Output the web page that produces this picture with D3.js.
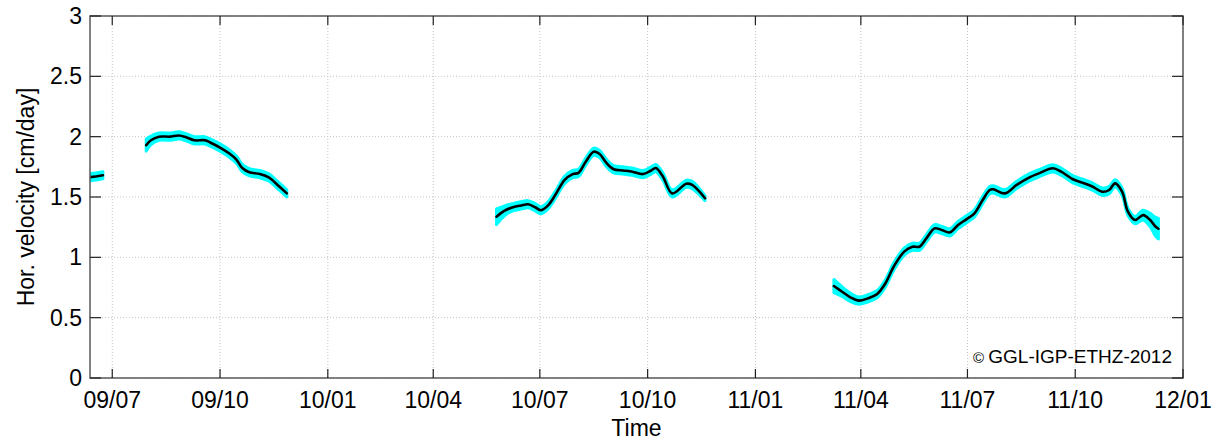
<!DOCTYPE html>
<html><head><meta charset="utf-8">
<script src="https://cdn.jsdelivr.net/npm/d3@7"></script>
<style>
html,body{margin:0;padding:0;background:#fff;}
svg{display:block;font-family:"Liberation Sans",Arial,Helvetica,sans-serif;}
</style></head>
<body><svg id="c" width="1216" height="442"></svg>
<script>
// ---- data ----
const xTickDates = ["2009-07-01","2009-10-01","2010-01-01","2010-04-01","2010-07-01","2010-10-01","2011-01-01","2011-04-01","2011-07-01","2011-10-01","2012-01-01"];
const xTickLabels = ["09/07","09/10","10/01","10/04","10/07","10/10","11/01","11/04","11/07","11/10","12/01"];
const yTicks = [0,0.5,1,1.5,2,2.5,3];
const yTickLabels = ["0","0.5","1","1.5","2","2.5","3"];

const seg1Dates = ["2009-06-12","2009-06-17","2009-06-23"];
const seg1Vals  = [1.665,1.67,1.68];
const seg1Err   = [0.03,0.03,0.03];

const seg2Dates = ["2009-07-30","2009-08-03","2009-08-10","2009-08-19","2009-08-27","2009-09-02","2009-09-09","2009-09-18","2009-09-23","2009-10-01","2009-10-09","2009-10-15","2009-10-20","2009-10-26","2009-11-04","2009-11-12","2009-11-18","2009-11-27"];
const seg2Vals  = [1.93,1.97,2.00,2.00,2.01,1.995,1.97,1.97,1.95,1.91,1.86,1.81,1.74,1.705,1.69,1.66,1.61,1.53];
const seg2Err   = [0.05,0.035,0.03,0.03,0.03,0.03,0.03,0.03,0.03,0.03,0.03,0.03,0.03,0.03,0.03,0.03,0.03,0.03];

const seg3Dates = ["2010-05-25","2010-06-01","2010-06-08","2010-06-15","2010-06-21","2010-06-27","2010-07-02","2010-07-08","2010-07-15","2010-07-22","2010-07-29","2010-08-03","2010-08-09","2010-08-16","2010-08-21","2010-08-27","2010-09-02","2010-09-10","2010-09-18","2010-09-27","2010-10-04","2010-10-08","2010-10-14","2010-10-22","2010-11-03","2010-11-08","2010-11-19"];
const seg3Vals  = [1.337,1.387,1.415,1.43,1.44,1.415,1.39,1.43,1.53,1.64,1.69,1.70,1.79,1.875,1.856,1.78,1.73,1.72,1.71,1.69,1.72,1.74,1.67,1.53,1.61,1.60,1.49];
const seg3Err   = [0.065,0.04,0.03,0.03,0.03,0.03,0.03,0.03,0.03,0.03,0.03,0.03,0.03,0.03,0.03,0.03,0.03,0.03,0.03,0.03,0.03,0.03,0.03,0.03,0.03,0.03,0.02];

const seg4Dates = ["2011-03-09","2011-03-16","2011-03-23","2011-03-30","2011-04-07","2011-04-15","2011-04-22","2011-04-29","2011-05-08","2011-05-15","2011-05-21","2011-05-27","2011-06-03","2011-06-09","2011-06-16","2011-06-23","2011-06-30","2011-07-07","2011-07-14","2011-07-20","2011-07-23","2011-08-02","2011-08-12","2011-08-23","2011-08-31","2011-09-12","2011-09-19","2011-09-29","2011-10-07","2011-10-16","2011-10-24","2011-10-30","2011-11-04","2011-11-10","2011-11-15","2011-11-21","2011-11-28","2011-12-04","2011-12-08","2011-12-11"];
const seg4Vals  = [0.762,0.715,0.669,0.641,0.66,0.696,0.785,0.922,1.047,1.088,1.088,1.158,1.24,1.227,1.207,1.268,1.315,1.365,1.475,1.558,1.564,1.53,1.60,1.663,1.696,1.738,1.71,1.647,1.619,1.585,1.544,1.558,1.613,1.544,1.378,1.309,1.35,1.309,1.26,1.237];
const seg4Err   = [0.055,0.04,0.035,0.03,0.03,0.03,0.03,0.03,0.03,0.03,0.03,0.03,0.03,0.03,0.03,0.03,0.03,0.03,0.03,0.03,0.03,0.03,0.03,0.03,0.03,0.03,0.03,0.03,0.03,0.03,0.03,0.03,0.03,0.03,0.03,0.03,0.04,0.055,0.075,0.085];

const xDomain = ["2009-06-12","2012-01-01"];
const yDomain = [0,3];
const xLabel = "Time";
const yLabel = "Hor. velocity [cm/day]";
const credit = "GGL-IGP-ETHZ-2012";

// ---- layout ----
const parse = d3.timeParse("%Y-%m-%d");
const L = 90, R = 1183, T = 16, B = 378;
const svg = d3.select("#c");
const x = d3.scaleTime().domain(xDomain.map(parse)).range([L, R]);
const y = d3.scaleLinear().domain(yDomain).range([B, T]);

// grid
const g = svg.append("g");
g.selectAll(".gx").data(xTickDates.map(parse)).enter().append("line")
  .attr("x1", d => x(d)).attr("x2", d => x(d)).attr("y1", T).attr("y2", B)
  .attr("stroke", "#c4c4c4").attr("stroke-width", 1).attr("stroke-dasharray", "1,2");
g.selectAll(".gy").data(yTicks).enter().append("line")
  .attr("x1", L).attr("x2", R).attr("y1", d => y(d)).attr("y2", d => y(d))
  .attr("stroke", "#c4c4c4").attr("stroke-width", 1).attr("stroke-dasharray", "1,2");

// data
const segs = [[seg1Dates,seg1Vals,seg1Err],[seg2Dates,seg2Vals,seg2Err],[seg3Dates,seg3Vals,seg3Err],[seg4Dates,seg4Vals,seg4Err]]
  .map(([ds,vs,es]) => ds.map((d,i) => ({t: parse(d), v: vs[i], e: es[i]})));

svg.append("clipPath").attr("id","pc").append("rect")
  .attr("x", L).attr("y", T).attr("width", R-L).attr("height", B-T);
const dg = svg.append("g").attr("clip-path","url(#pc)");
const area = d3.area().x(d => x(d.t)).y0(d => y(d.v - d.e)).y1(d => y(d.v + d.e)).curve(d3.curveCatmullRom);
const line = d3.line().x(d => x(d.t)).y(d => y(d.v)).curve(d3.curveCatmullRom);
segs.forEach(s => {
  dg.append("path").datum(s).attr("d", area).attr("fill", "#00ffff").attr("stroke","#00ffff").attr("stroke-width",3).attr("stroke-linejoin","round");
});
segs.forEach(s => {
  dg.append("path").datum(s).attr("d", line).attr("fill", "none").attr("stroke", "#000").attr("stroke-width", 2.6).attr("stroke-linejoin","round").attr("stroke-linecap","round");
});

// frame and ticks
svg.append("rect").attr("x", L).attr("y", T).attr("width", R-L).attr("height", B-T)
  .attr("fill", "none").attr("stroke", "#5a5a5a").attr("stroke-width", 1.5);
const tk = svg.append("g").attr("stroke", "#222").attr("stroke-width", 1.2);
xTickDates.map(parse).forEach(d => {
  tk.append("line").attr("x1", x(d)).attr("x2", x(d)).attr("y1", B).attr("y2", B-9);
  tk.append("line").attr("x1", x(d)).attr("x2", x(d)).attr("y1", T).attr("y2", T+9);
});
yTicks.forEach(v => {
  tk.append("line").attr("x1", L).attr("x2", L+11).attr("y1", y(v)).attr("y2", y(v));
  tk.append("line").attr("x1", R).attr("x2", R-11).attr("y1", y(v)).attr("y2", y(v));
});

// tick labels
svg.selectAll(".xl").data(xTickDates).enter().append("text")
  .attr("x", (d) => x(parse(d))).attr("y", 408).attr("text-anchor", "middle")
  .attr("font-size", 23).attr("fill", "#000").text((d,i) => xTickLabels[i]);
svg.selectAll(".yl").data(yTicks).enter().append("text")
  .attr("x", 82).attr("y", d => y(d) + 8).attr("text-anchor", "end")
  .attr("font-size", 23).attr("fill", "#000").text((d,i) => yTickLabels[i]);

// axis labels
svg.append("text").attr("x", (L+R)/2).attr("y", 436).attr("text-anchor","middle")
  .attr("font-size", 23).attr("fill","#000").text(xLabel);
svg.append("text").attr("transform", `translate(34,${(T+B)/2}) rotate(-90)`).attr("text-anchor","middle")
  .attr("font-size", 23).attr("fill","#000").text(yLabel);

// credit
const ct = svg.append("text").attr("x", 1172).attr("y", 363).attr("text-anchor","end").attr("fill","#000");
ct.append("tspan").attr("font-size", 15).text("\u00A9 ");
ct.append("tspan").attr("font-size", 19).text(credit);
</script></body></html>
